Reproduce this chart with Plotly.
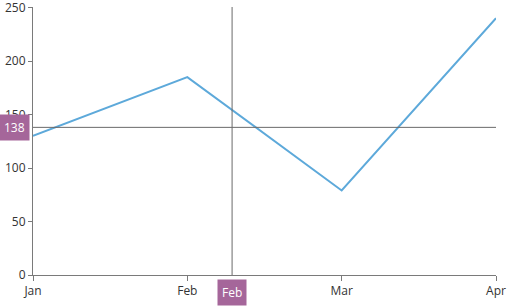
import plotly.graph_objects as go

categories = ["Jan", "Feb", "Mar", "Apr"]
values = [130, 185, 79, 240]
y_ticks = [0, 50, 100, 150, 200, 250]
cross_x = 1.29
cross_x_label = "Feb"
cross_y = 138
cross_y_label = "138"

xpos = list(range(len(categories)))
font = "Segoe UI, Open Sans, sans-serif"

fig = go.Figure()
fig.add_trace(go.Scatter(x=xpos, y=values, mode="lines",
                         line=dict(color="#5DA9DA", width=2), hoverinfo="skip"))

fig.add_shape(type="line", xref="x", yref="paper", x0=cross_x, x1=cross_x, y0=0, y1=1,
              line=dict(color="#6a6a6a", width=1))
fig.add_shape(type="line", xref="paper", yref="y", x0=0, x1=1, y0=cross_y, y1=cross_y,
              line=dict(color="#6a6a6a", width=1))

fig.add_annotation(x=cross_x, xref="x", y=0, yref="paper", yshift=-17, text=cross_x_label,
                   showarrow=False, bgcolor="#A5669A", font=dict(color="white", size=12, family=font),
                   borderpad=4, xanchor="center", yanchor="middle")
fig.add_annotation(x=0, xref="paper", xshift=-19, y=cross_y, yref="y", text=cross_y_label,
                   showarrow=False, bgcolor="#A5669A", font=dict(color="white", size=12, family=font),
                   borderpad=4, xanchor="center", yanchor="middle")

fig.update_layout(
    width=515, height=306,
    margin=dict(l=33, r=19, t=7, b=31, autoexpand=False),
    plot_bgcolor="white", paper_bgcolor="white",
    showlegend=False,
    font=dict(family=font, size=12, color="#333333"),
    xaxis=dict(range=[0, 3], tickvals=xpos, ticktext=categories, showgrid=False, zeroline=False,
               showline=True, linecolor="#7a7a7a", linewidth=1, ticks="outside", ticklen=5,
               tickcolor="#7a7a7a", fixedrange=True, ticklabeloverflow="allow", automargin=False),
    yaxis=dict(range=[0, 250.5], tickvals=y_ticks, showgrid=False, zeroline=False,
               showline=True, linecolor="#7a7a7a", linewidth=1, ticks="outside", ticklen=4,
               tickcolor="#7a7a7a", fixedrange=True, ticklabeloverflow="allow", automargin=False),
)

fig.write_html("out.html")
